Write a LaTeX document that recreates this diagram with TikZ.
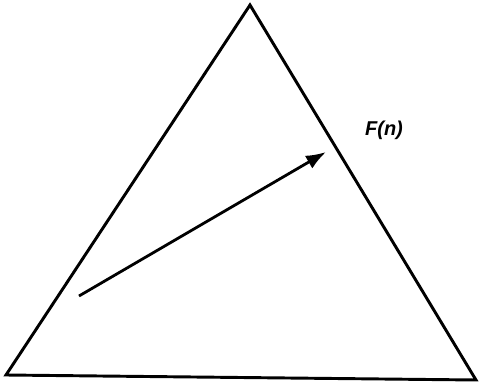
\documentclass[tikz,border=0pt]{standalone}
\usepackage{fontspec}
\setsansfont{Liberation Sans}
\usetikzlibrary{arrows.meta}

\begin{document}
\begin{tikzpicture}[x=0.75pt,y=-0.75pt,>={Latex[length=15pt,width=11pt]},
 edge/.style={line width=2.2pt,line join=miter},
 arr/.style={->,line width=2.1pt},
 lab/.style={font=\sffamily\bfseries\itshape\fontsize{15}{17}\selectfont,inner sep=0pt}]
\useasboundingbox (0,0) rectangle (480,386);
\coordinate (top) at (250,5);
\coordinate (bl) at (6,375);
\coordinate (br) at (476,380);
\draw[edge] (top)--(br)--(bl)--cycle;
\coordinate (tail) at (79,296);
\coordinate (head) at (326,152);
\draw[arr] (tail)--(head);
\node[lab] (fn) at (384,130) {F(n)};
\end{tikzpicture}
\end{document}
